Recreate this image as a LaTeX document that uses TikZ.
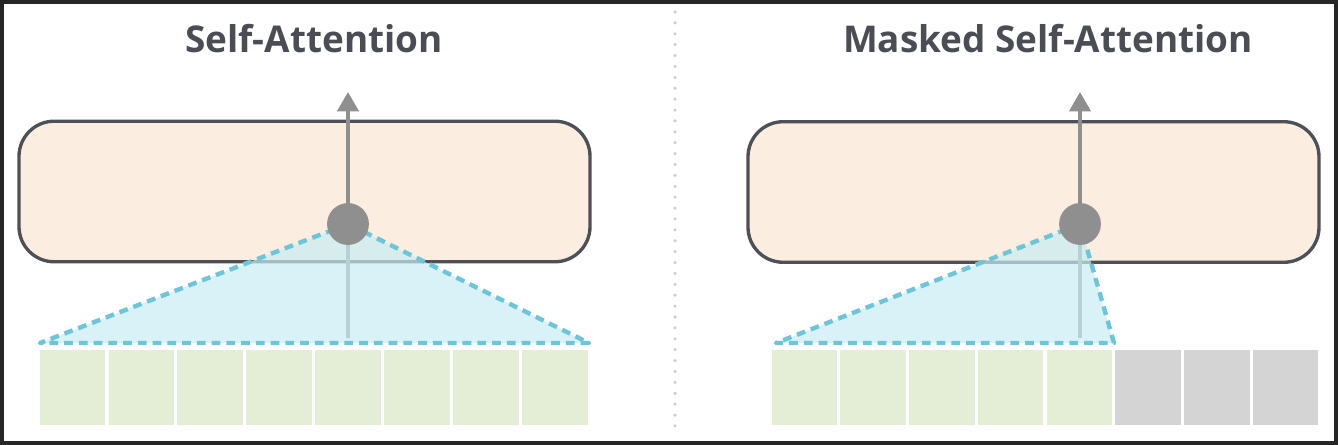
\documentclass[tikz,border=0pt]{standalone}
\usepackage{fontspec}
\setmainfont{Open Sans}
\usepackage{tikz}
\usetikzlibrary{arrows.meta, positioning, shapes.geometric}
\definecolor{titlegray}{RGB}{75, 77, 85}
\definecolor{blockfill}{RGB}{251, 238, 224}
\definecolor{blockline}{RGB}{78, 80, 87}
\definecolor{flowgray}{RGB}{143, 143, 143}
\definecolor{conefill}{RGB}{200, 236, 243}
\definecolor{coneline}{RGB}{108, 197, 216}
\definecolor{tokgreen}{RGB}{228, 238, 215}
\definecolor{tokgray}{RGB}{212, 212, 212}

\begin{document}
\begin{tikzpicture}[
    x=0.02cm, y=-0.02cm,
    title/.style={anchor=base, text=titlegray, font=\fontsize{21pt}{25pt}\selectfont\bfseries},
    block/.style={draw=blockline, line width=1.9pt, fill=blockfill, rounded corners=20pt, minimum width=325pt, minimum height=80pt},
    arrow/.style={-{Triangle[length=11pt, width=12pt]}, line width=2.2pt, flowgray},
    stem/.style={line width=2.2pt, flowgray},
    cone/.style={draw=coneline, line width=2.5pt, line join=round, dash pattern=on 5pt off 3.4pt, fill=conefill, fill opacity=0.7},
    dot/.style={circle, fill=flowgray, minimum size=23.8pt, inner sep=0pt},
    cell/.style={draw=white, line width=1.7pt, minimum width=39pt, minimum height=44.8pt, inner sep=0pt},
    divider/.style={draw={rgb,255:red,205;green,205;blue,205}, line width=2pt, line cap=round, dash pattern=on 0pt off 6.2pt},
    frame/.style={draw=black!85, line width=2.2pt}
]
    \useasboundingbox (0,0) rectangle (1338,445);

    % --- Self-Attention ---
    \node[title] (titleL) at (314, 53) {Self-Attention};
    \node[block] (blockL) at (304.5, 191.5) {};
    \foreach \i in {0,...,7}
        \node[cell, fill=tokgreen] (tokL\i) at ({38 + 68.9*(\i+0.5)}, 387.5) {};

    \coordinate (cL) at (348, 224);
    \coordinate (upL) at (348, 92);
    \coordinate (downL) at (348, 338);
    \coordinate (baseL1) at (40, 343);
    \coordinate (baseL2) at (589, 343);

    \draw[arrow] (cL) -- (upL);
    \draw[stem] (cL) -- (downL);
    \draw[cone] (cL) -- (baseL1) -- (baseL2) -- cycle;
    \node[dot] (dotL) at (cL) {};

    % --- divider ---
    \coordinate (divtop) at (675, 12);
    \coordinate (divbot) at (675, 434);
    \draw[divider] (divtop) -- (divbot);

    % --- Masked Self-Attention ---
    \node[title] (titleR) at (1048, 53) {Masked Self-Attention};
    \node[block] (blockR) at (1033.5, 192) {};
    \foreach \i in {0,...,4}
        \node[cell, fill=tokgreen] (tokR\i) at ({770 + 68.75*(\i+0.5)}, 387.5) {};
    \foreach \i in {5,6,7}
        \node[cell, fill=tokgray] (tokR\i) at ({770 + 68.75*(\i+0.5)}, 387.5) {};

    \coordinate (cR) at (1080, 224);
    \coordinate (upR) at (1080, 92);
    \coordinate (downR) at (1080, 338);
    \coordinate (baseR1) at (776, 343);
    \coordinate (baseR2) at (1114, 343);

    \draw[arrow] (cR) -- (upR);
    \draw[stem] (cR) -- (downR);
    \draw[cone] (cR) -- (baseR1) -- (baseR2) -- cycle;
    \node[dot] (dotR) at (cR) {};

    \draw[frame] (1.75, 1.75) rectangle (1336.25, 443.25);
\end{tikzpicture}
\end{document}
